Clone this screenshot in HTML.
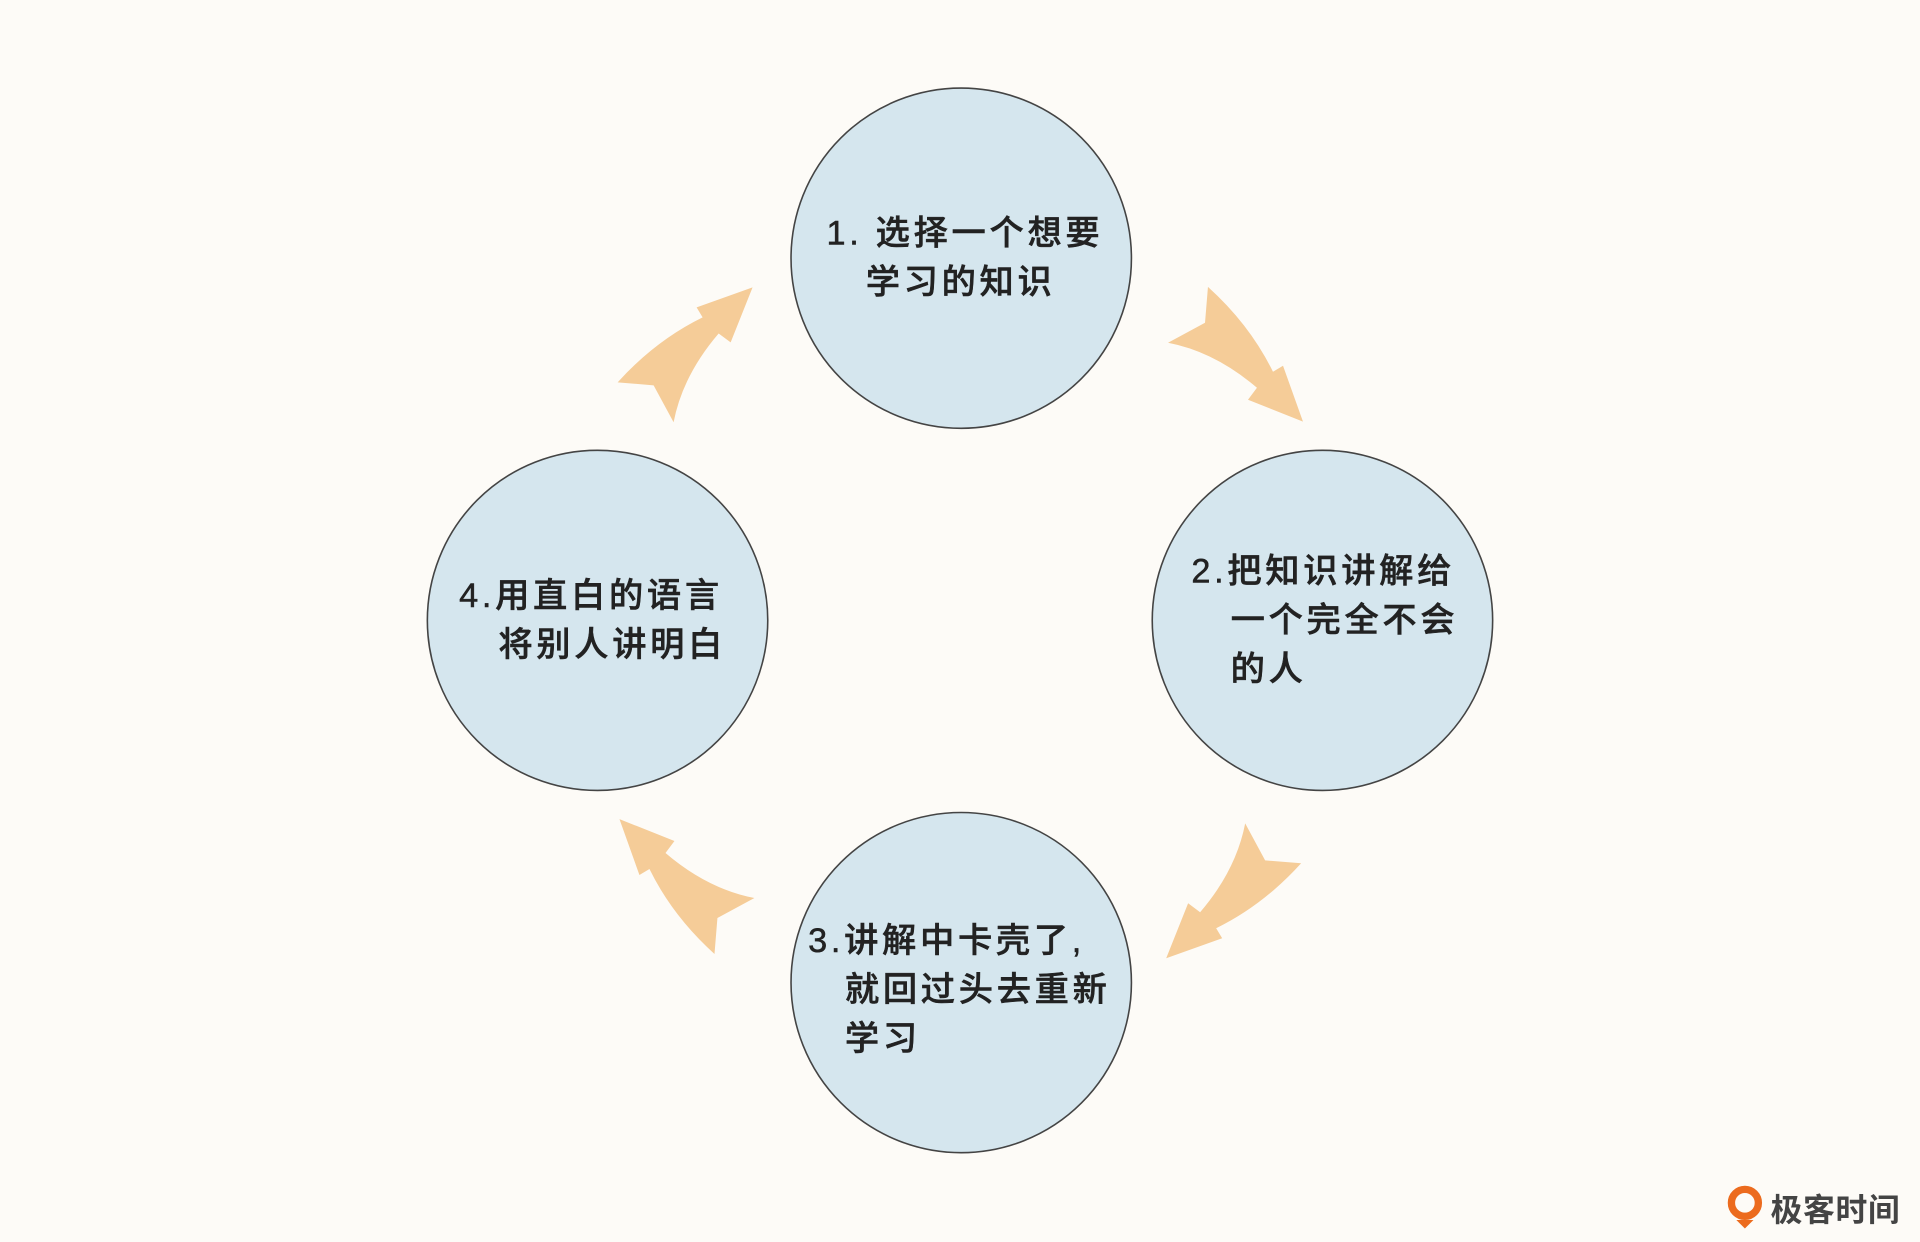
<!DOCTYPE html>
<html><head><meta charset="utf-8"><style>
html,body{margin:0;padding:0;background:#fdfbf7;}
svg{display:block}
text{font-family:"Liberation Sans","Noto Sans CJK SC",sans-serif;font-size:28px;font-weight:500;fill:#222;letter-spacing:3px;stroke:#222;stroke-width:0.4}
</style></head><body>
<svg width="1920" height="1242" viewBox="0 0 1568 1015" preserveAspectRatio="none">
<rect width="1568" height="1015" fill="#fdfbf7"/>
<g fill="#d5e6ee" stroke="#444" stroke-width="1.3">
<circle cx="785" cy="211" r="139"/>
<circle cx="1080" cy="507" r="139"/>
<circle cx="488" cy="507" r="139"/>
<circle cx="785" cy="803" r="139"/>
</g>
<defs><path id="ar" d="M986.5,234.4 Q1020.8,265.4 1039.6,303.8 L1047.8,298.9 L1064.1,344.6 L1019.2,326.7 L1026.5,316.9 Q992.2,287.5 953.9,280.1 L984.1,263.8 Z" fill="#f5cc98"/></defs>
<use href="#ar"/>
<use href="#ar" transform="translate(5,-3) rotate(90 785 507)"/>
<use href="#ar" transform="rotate(180 785 507)"/>
<use href="#ar" transform="translate(-8,7) rotate(270 785 507)"/>
<text x="675" y="200">1. 选择一个想要</text>
<text x="707" y="240">学习的知识</text>
<text x="973" y="476">2.把知识讲解给</text>
<text x="1005" y="516">一个完全不会</text>
<text x="1005" y="556">的人</text>
<text x="660" y="778">3.讲解中卡壳了,</text>
<text x="690" y="818">就回过头去重新</text>
<text x="690" y="858">学习</text>
<text x="375" y="496">4.用直白的语言</text>
<text x="407" y="536">将别人讲明白</text>
<circle cx="1425" cy="983" r="11" fill="none" stroke="#ec6b1e" stroke-width="6"/>
<path d="M1418,997 L1432,997 L1425,1004 Z" fill="#ec6b1e"/>
<text x="1446" y="998" style="font-size:26px;font-weight:700;fill:#444;stroke:none;letter-spacing:0.5px">极客时间</text>
</svg>
</body></html>
